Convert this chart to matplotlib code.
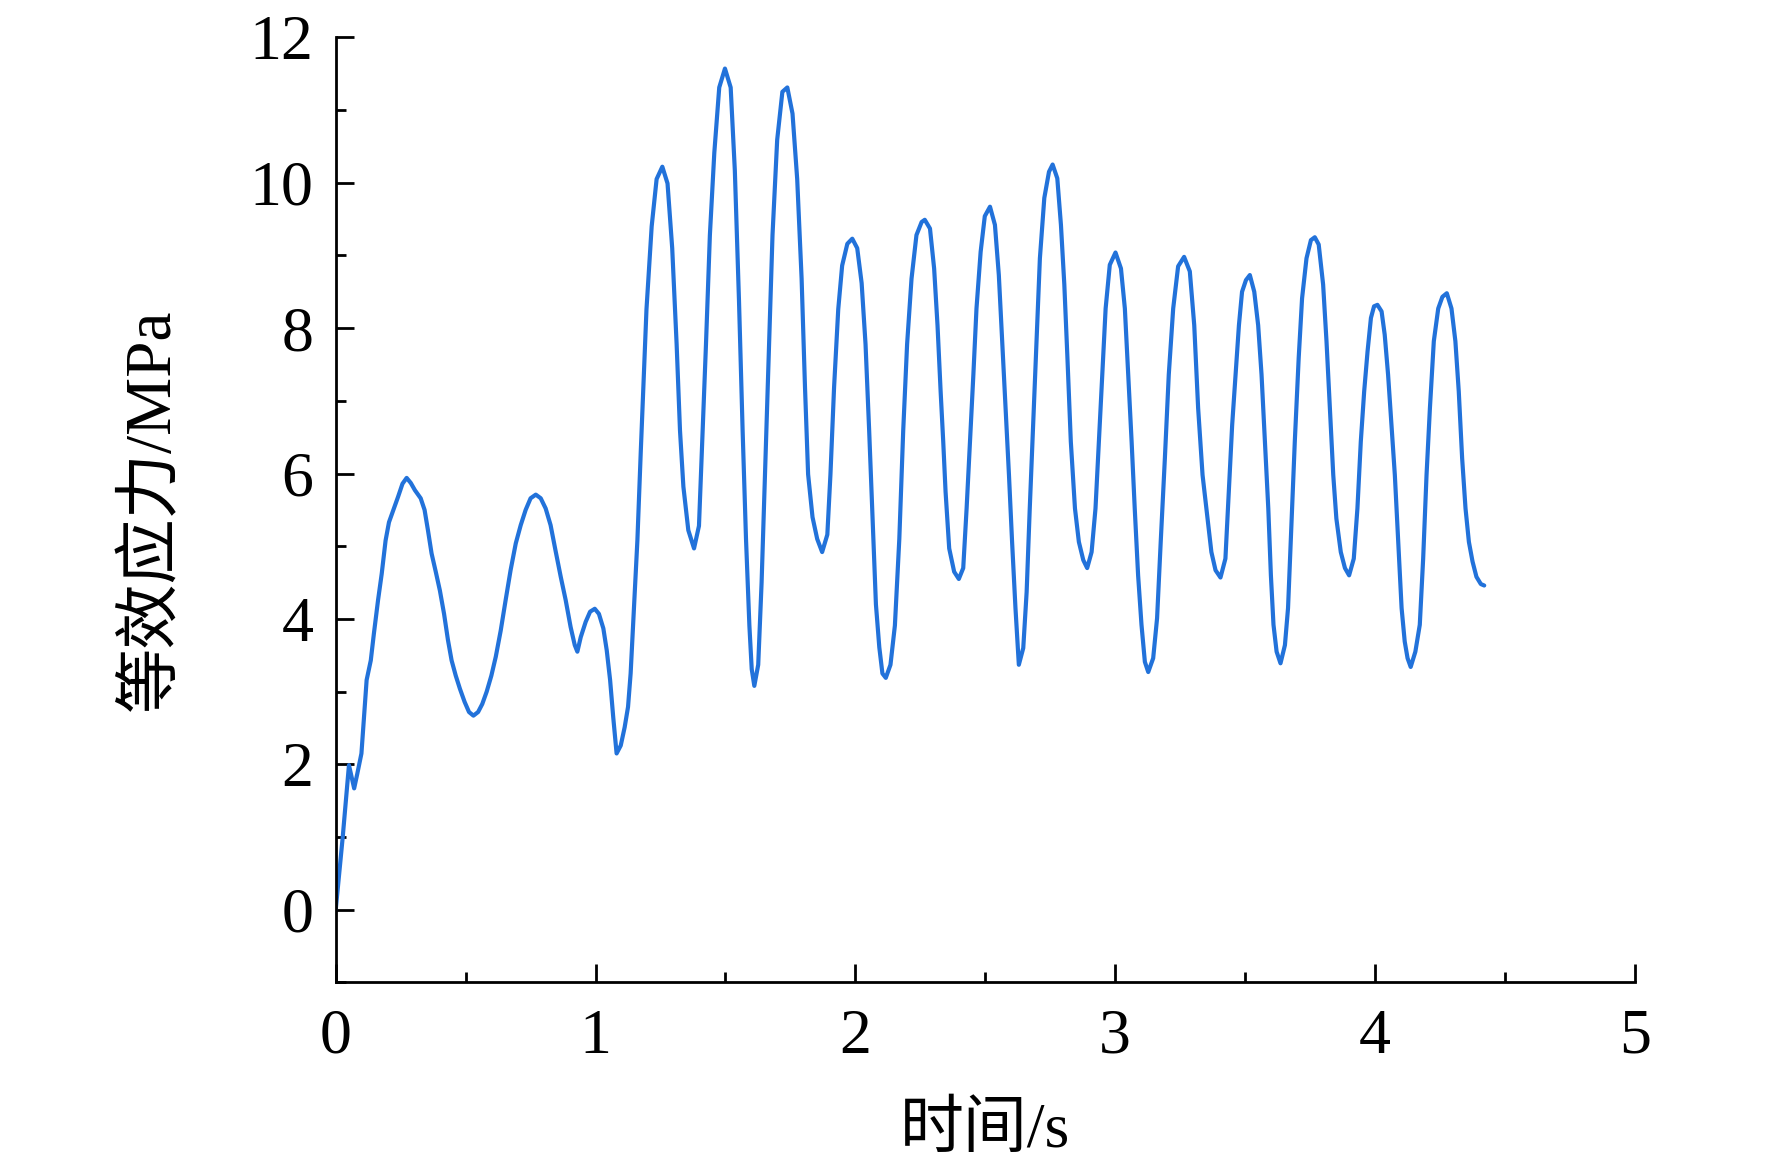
import matplotlib
matplotlib.use("Agg")
import matplotlib.pyplot as plt
from matplotlib.ticker import MultipleLocator

time_s = [0, 0.027, 0.051, 0.071, 0.083, 0.099, 0.109, 0.119, 0.135, 0.147, 0.163, 0.177, 0.192, 0.205,
          0.222, 0.240, 0.257, 0.273, 0.289, 0.305, 0.327, 0.342, 0.355, 0.369, 0.385, 0.401, 0.417,
          0.432, 0.446, 0.462, 0.478, 0.496, 0.513, 0.530, 0.548, 0.564, 0.581, 0.599, 0.616, 0.635,
          0.654, 0.673, 0.693, 0.712, 0.731, 0.750, 0.770, 0.789, 0.808, 0.827, 0.846, 0.866, 0.885,
          0.904, 0.920, 0.930, 0.943, 0.962, 0.979, 0.997, 1.013, 1.030, 1.043, 1.056, 1.068, 1.081,
          1.097, 1.112, 1.125, 1.135, 1.148, 1.161, 1.174,
          1.196, 1.216, 1.235, 1.257, 1.277, 1.295, 1.312, 1.325, 1.338, 1.357, 1.379, 1.398, 1.412,
          1.425, 1.440, 1.457, 1.476, 1.498, 1.520, 1.536, 1.552, 1.566, 1.579, 1.592, 1.601, 1.611,
          1.626, 1.639, 1.652, 1.665, 1.681, 1.699, 1.719, 1.738, 1.758, 1.776, 1.793, 1.806, 1.818,
          1.835, 1.853, 1.872, 1.892, 1.904, 1.918, 1.934, 1.949, 1.969, 1.988, 2.007, 2.024, 2.039,
          2.053, 2.066, 2.079, 2.092, 2.104, 2.117, 2.135, 2.152, 2.169, 2.184, 2.199, 2.216, 2.235,
          2.255, 2.267, 2.287, 2.303,
          2.316, 2.328, 2.338, 2.347, 2.361, 2.380, 2.398, 2.415, 2.428, 2.441, 2.454, 2.466, 2.482,
          2.498, 2.518, 2.537, 2.552, 2.565, 2.578, 2.591, 2.603, 2.616, 2.629, 2.646, 2.659, 2.671,
          2.684, 2.697, 2.710, 2.727, 2.745, 2.759, 2.777, 2.791, 2.804, 2.816, 2.829, 2.845, 2.860,
          2.877, 2.892, 2.909, 2.924, 2.937, 2.950, 2.963, 2.979, 3.001, 3.022, 3.037, 3.050, 3.063,
          3.075, 3.088, 3.101, 3.114, 3.127, 3.146, 3.161, 3.175, 3.191, 3.206, 3.223, 3.242, 3.265,
          3.287, 3.304, 3.319, 3.336, 3.358, 3.370, 3.386, 3.405,
          3.424, 3.437, 3.450, 3.463, 3.476, 3.488, 3.503, 3.518, 3.535, 3.550, 3.563, 3.576, 3.589,
          3.599, 3.609, 3.621, 3.636, 3.653, 3.665, 3.678, 3.691, 3.706, 3.719, 3.736, 3.753, 3.768,
          3.783, 3.800, 3.813, 3.826, 3.839, 3.851, 3.868, 3.884, 3.900, 3.918, 3.932, 3.945, 3.958,
          3.971, 3.984, 3.996, 4.009, 4.025, 4.037, 4.050, 4.063, 4.076, 4.089, 4.102, 4.114, 4.125,
          4.137, 4.155, 4.172, 4.185, 4.198, 4.211, 4.226, 4.243, 4.259, 4.276, 4.294, 4.309, 4.322,
          4.335, 4.348, 4.361, 4.375, 4.390, 4.407, 4.420]

stress_mpa = [0, 1.0, 1.99, 1.67, 1.87, 2.15, 2.65, 3.16, 3.43, 3.80, 4.26, 4.62, 5.08, 5.33,
              5.50, 5.68, 5.86, 5.94, 5.87, 5.77, 5.66, 5.50, 5.22, 4.90, 4.65, 4.39, 4.07,
              3.71, 3.43, 3.22, 3.04, 2.86, 2.72, 2.67, 2.72, 2.83, 3.00, 3.22, 3.48, 3.84,
              4.26, 4.67, 5.04, 5.29, 5.50, 5.66, 5.71, 5.66, 5.52, 5.29, 4.94, 4.58, 4.26,
              3.89, 3.64, 3.55, 3.75, 3.96, 4.10, 4.14, 4.07, 3.87, 3.57, 3.16, 2.65, 2.15,
              2.26, 2.51, 2.79, 3.25, 4.17, 5.08, 6.30,
              8.26, 9.40, 10.05, 10.22, 9.99, 9.10, 7.78, 6.59, 5.82, 5.22, 4.97, 5.28, 6.59,
              7.78, 9.28, 10.41, 11.31, 11.57, 11.31, 10.17, 8.38, 6.59, 5.10, 3.91, 3.31, 3.08,
              3.37, 4.50, 5.99, 7.49, 9.28, 10.59, 11.25, 11.31, 10.95, 10.05, 8.68, 7.19, 5.99,
              5.40, 5.10, 4.92, 5.16, 5.99, 7.19, 8.26, 8.86, 9.16, 9.23, 9.10, 8.62, 7.78,
              6.59, 5.40, 4.20, 3.61, 3.25, 3.19, 3.37, 3.91, 5.10, 6.59, 7.78, 8.68, 9.28,
              9.46, 9.49, 9.37, 8.82,
              8.04, 7.13, 6.44, 5.75, 4.97, 4.65, 4.55, 4.70, 5.52, 6.44, 7.36, 8.27, 9.05,
              9.54, 9.67, 9.42, 8.73, 7.82, 6.90, 5.98, 5.06, 4.15, 3.37, 3.60, 4.37, 5.52,
              6.67, 7.82, 8.96, 9.79, 10.15, 10.25, 10.06, 9.42, 8.60, 7.59, 6.44, 5.52, 5.06,
              4.81, 4.70, 4.92, 5.52, 6.44, 7.36, 8.27, 8.87, 9.04, 8.82, 8.27, 7.36, 6.44,
              5.52, 4.60, 3.92, 3.41, 3.27, 3.46, 4.01, 5.06, 6.21, 7.36, 8.27, 8.85, 8.98,
              8.78, 8.04, 6.90, 5.98, 5.29, 4.92, 4.67, 4.57,
              4.83, 5.75, 6.67, 7.36, 8.04, 8.50, 8.66, 8.73, 8.50, 8.04, 7.36, 6.44, 5.52,
              4.60, 3.92, 3.55, 3.39, 3.64, 4.15, 5.29, 6.44, 7.59, 8.41, 8.96, 9.21, 9.25,
              9.15, 8.60, 7.82, 6.90, 5.98, 5.38, 4.92, 4.70, 4.60, 4.83, 5.52, 6.44, 7.13,
              7.68, 8.14, 8.30, 8.32, 8.23, 7.91, 7.36, 6.67, 5.98, 5.06, 4.15, 3.69, 3.46,
              3.34, 3.55, 3.92, 4.83, 5.98, 6.90, 7.82, 8.27, 8.43, 8.48, 8.27, 7.82, 7.13,
              6.21, 5.52, 5.06, 4.79, 4.58, 4.48, 4.46]

x_label = "时间/s"
y_label = "等效应力/MPa"
x_ticks = [0, 1, 2, 3, 4, 5]
y_ticks = [0, 2, 4, 6, 8, 10, 12]

fonts = ["Liberation Serif", "Noto Sans CJK SC", "DejaVu Sans"]
plt.rcParams["font.family"] = fonts

fig = plt.figure(figsize=(17.72, 11.75), dpi=100)
ax = fig.add_axes([0.18945, 0.16383, 0.7332, 0.80443])

ax.plot(time_s, stress_mpa, color="#2272DA", linewidth=3.0,
        solid_joinstyle="round", solid_capstyle="round")

ax.set_xlim(0, 5)
ax.set_ylim(-1, 12)
ax.set_xticks(x_ticks)
ax.set_yticks(y_ticks)
ax.xaxis.set_minor_locator(MultipleLocator(0.5))
ax.yaxis.set_minor_locator(MultipleLocator(1))

for side in ("top", "right"):
    ax.spines[side].set_visible(False)
for side in ("left", "bottom"):
    ax.spines[side].set_linewidth(2.0)
ax.spines["left"].set_bounds(-1, 12)

ax.tick_params(axis="both", which="major", direction="in", length=13, width=2.0,
               labelsize=46)
ax.tick_params(axis="both", which="minor", direction="in", length=7.5, width=2.0)
ax.tick_params(axis="x", which="major", pad=19)
ax.tick_params(axis="y", which="major", pad=16)

ax.set_xlabel(x_label, fontsize=46, va="center")
ax.xaxis.set_label_coords(0.5, -0.158)
ax.set_ylabel(y_label, fontsize=47, va="center")
ax.yaxis.set_label_coords(-0.1414, 0.5)

fig.savefig("out.png", dpi=100)
